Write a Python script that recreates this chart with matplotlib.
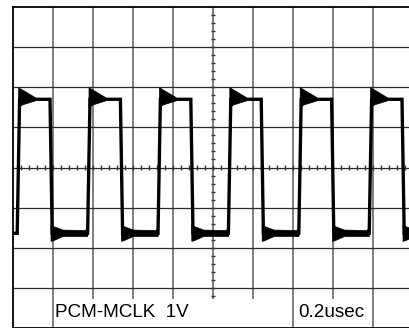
import matplotlib.pyplot as plt
from matplotlib.patches import Rectangle, Polygon

# scope trace, in divisions (10 x 8 graticule, centre = 0,0)
rise_times = [0.14, 1.90, 3.66, 5.42, 7.18, 8.94]
fall_times = [0.95, 2.71, 4.47, 6.23, 7.99, 9.75]
high_level = 1.70
low_level = -1.64

# overshoot after a rising edge (dx from edge, volts in div)
hi_flag_dx = [0.0, 0.05, 0.42, 0.42, 0.10, 0.0]
hi_flag_v = [1.99, 1.96, 1.74, 1.66, 1.56, 1.50]
# undershoot after a falling edge, band runs on to the next rising edge
lo_flag_dx = [0.0, 0.06, 0.30, 0.86, 0.92, 0.92, 0.30, 0.05, 0.0]
lo_flag_v = [-1.42, -1.47, -1.56, -1.57, -1.50, -1.72, -1.72, -1.83, -1.84]

ch_label = 'PCM-MCLK  1V'
time_label = '0.2usec'

px = 1 / 100.
fig = plt.figure(figsize=(409 * px, 328 * px), dpi=100)
# graticule runs past the right edge of the screenshot
ax = fig.add_axes([13 / 409., 0.0 / 328, 400 / 409., 321 / 328.])
ax.set_xlim(0, 10)
ax.set_ylim(-4, 4)
ax.set_xticks([])
ax.set_yticks([])
for s in ax.spines.values():
    s.set_color('black')
    s.set_linewidth(1.3)

for i in range(1, 10):
    ax.axvline(i, color='#5a5a5a', lw=1.1, zorder=1)
for j in range(-3, 4):
    ax.axhline(j, color='#2a2a2a', lw=0.9, zorder=1)

# small ticks along the centre axes
tk = [k * 0.2 for k in range(1, 50)]
ax.vlines(tk, -0.06, 0.06, color='#333333', lw=1.0, zorder=1)
tk = [k * 0.2 - 4 for k in range(1, 40)]
ax.hlines(tk, 5 - 0.06, 5 + 0.06, color='#333333', lw=1.0, zorder=1)

# trace
xs = [0.0]
ys = [low_level]
for r, f in zip(rise_times, fall_times):
    xs += [r - 0.035, r + 0.025, f - 0.025, f + 0.03]
    ys += [low_level, high_level, high_level, low_level]
xs.append(10.0)
ys.append(low_level)
ax.plot(xs, ys, color='black', lw=2.4, solid_joinstyle='miter', zorder=3)

for r, f in zip(rise_times, fall_times):
    ax.add_patch(Polygon([(r + d, v) for d, v in zip(hi_flag_dx, hi_flag_v)],
                         closed=True, fc='black', ec='black', lw=0.5, zorder=3))
    ax.add_patch(Polygon([(f + d, v) for d, v in zip(lo_flag_dx, lo_flag_v)],
                         closed=True, fc='black', ec='black', lw=0.5, zorder=3))

# label fields
ax.add_patch(Rectangle((1.03, -3.98), 5.94, 0.70, fc='white', ec='none', zorder=4))
ax.add_patch(Rectangle((7.03, -3.98), 1.94, 0.70, fc='white', ec='none', zorder=4))
ax.text(1.05, -3.73, ch_label, fontsize=13.6, family='Liberation Sans',
        va='baseline', ha='left', zorder=5)
ax.text(7.13, -3.73, time_label, fontsize=13.6, family='Liberation Sans',
        va='baseline', ha='left', zorder=5)

fig.savefig('out.png', dpi=100)
